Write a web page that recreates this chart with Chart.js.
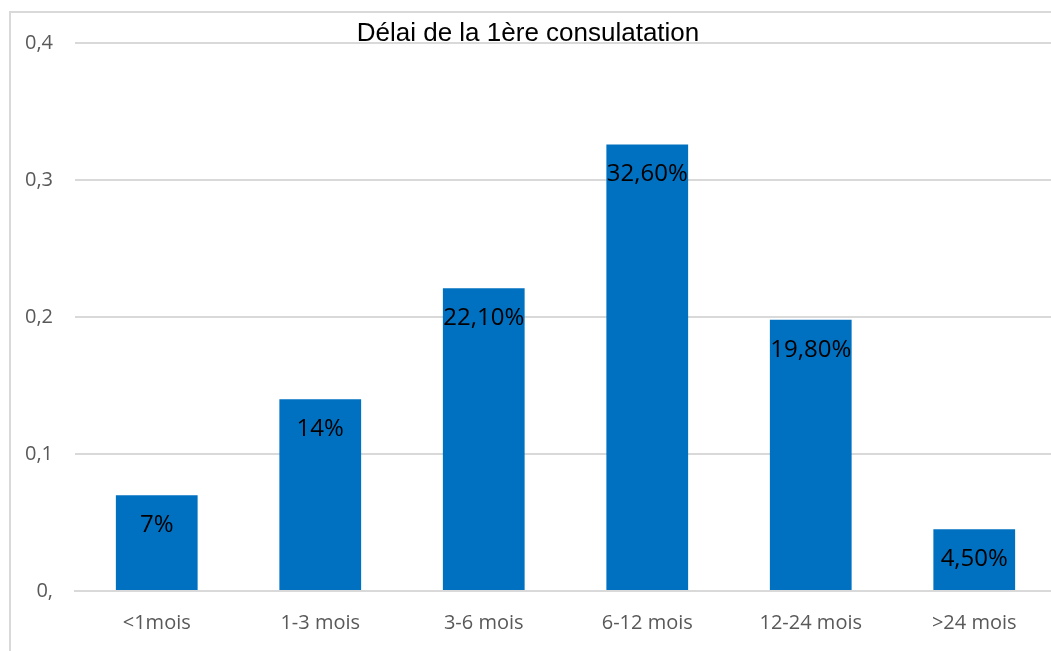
<!DOCTYPE html>
<html>
<head>
<meta charset="utf-8">
<script src="https://cdn.jsdelivr.net/npm/chart.js@4/dist/chart.umd.min.js"></script>
<style>
  html, body { margin: 0; padding: 0; background: #fff; overflow: hidden; }
  #wrap { width: 1056px; height: 651px; position: relative; }
</style>
</head>
<body>
<div id="wrap"><canvas id="chart"></canvas></div>
<script>
const categories = ["<1mois", "1-3 mois", "3-6 mois", "6-12 mois", "12-24 mois", ">24 mois"];
const values = [0.07, 0.14, 0.221, 0.326, 0.198, 0.045];
const valueLabels = ["7%", "14%", "22,10%", "32,60%", "19,80%", "4,50%"];
const yTicks = [0, 0.1, 0.2, 0.3, 0.4];
const yTickLabels = ["0,", "0,1", "0,2", "0,3", "0,4"];

const tickFont = { family: "'Open Sans', sans-serif", size: 20 };

// grey frame peeking in at the left and top
const framePlugin = {
    id: "frame",
    beforeDraw(chart) {
        const ctx = chart.ctx;
        ctx.save();
        ctx.strokeStyle = "#d9d9d9";
        ctx.lineWidth = 2;
        ctx.beginPath();
        ctx.moveTo(10, chart.height);
        ctx.lineTo(10, 12);
        ctx.lineTo(chart.width, 12);
        ctx.stroke();
        ctx.restore();
    }
};

// value labels drawn inside the top of each bar
const barLabels = {
    id: "barLabels",
    afterDatasetsDraw(chart) {
        const ctx = chart.ctx;
        const meta = chart.getDatasetMeta(0);
        ctx.save();
        ctx.fillStyle = "#000";
        ctx.font = "24px 'Open Sans', sans-serif";
        ctx.textAlign = "center";
        ctx.textBaseline = "middle";
        meta.data.forEach(function(bar, i) {
            ctx.fillText(valueLabels[i], bar.x, bar.y + 30);
        });
        ctx.restore();
    }
};

new Chart(document.getElementById("chart"), {
    type: "bar",
    data: {
        labels: categories,
        datasets: [{
            data: values,
            backgroundColor: "#0070c0",
            borderWidth: 0,
            barPercentage: 0.5,
            categoryPercentage: 1
        }]
    },
    options: {
        responsive: true,
        maintainAspectRatio: false,
        animation: false,
        layout: { padding: { left: 0, right: 0, top: 0, bottom: 4 } },
        plugins: {
            legend: { display: false },
            tooltip: { enabled: false },
            title: {
                display: true,
                text: "Délai de la 1ère consulatation",
                color: "#000",
                font: { family: "'Liberation Sans', Arial, sans-serif", size: 26, weight: "normal" },
                padding: { top: 18, bottom: -6 }
            }
        },
        scales: {
            x: {
                grid: { display: false },
                border: { color: "#d9d9d9", width: 2 },
                ticks: { color: "#595959", font: tickFont, padding: 12 }
            },
            y: {
                min: 0,
                max: 0.4,
                afterBuildTicks(scale) {
                    scale.ticks = yTicks.map(v => ({ value: v }));
                },
                afterFit(scale) {
                    scale.width = 75;
                },
                grid: { color: "#d9d9d9", lineWidth: 2, drawTicks: false },
                border: { display: false },
                ticks: {
                    color: "#595959",
                    font: tickFont,
                    padding: 22,
                    callback: function(v, i) { return yTickLabels[i]; }
                }
            }
        }
    },
    plugins: [framePlugin, barLabels]
});
</script>
</body>
</html>
